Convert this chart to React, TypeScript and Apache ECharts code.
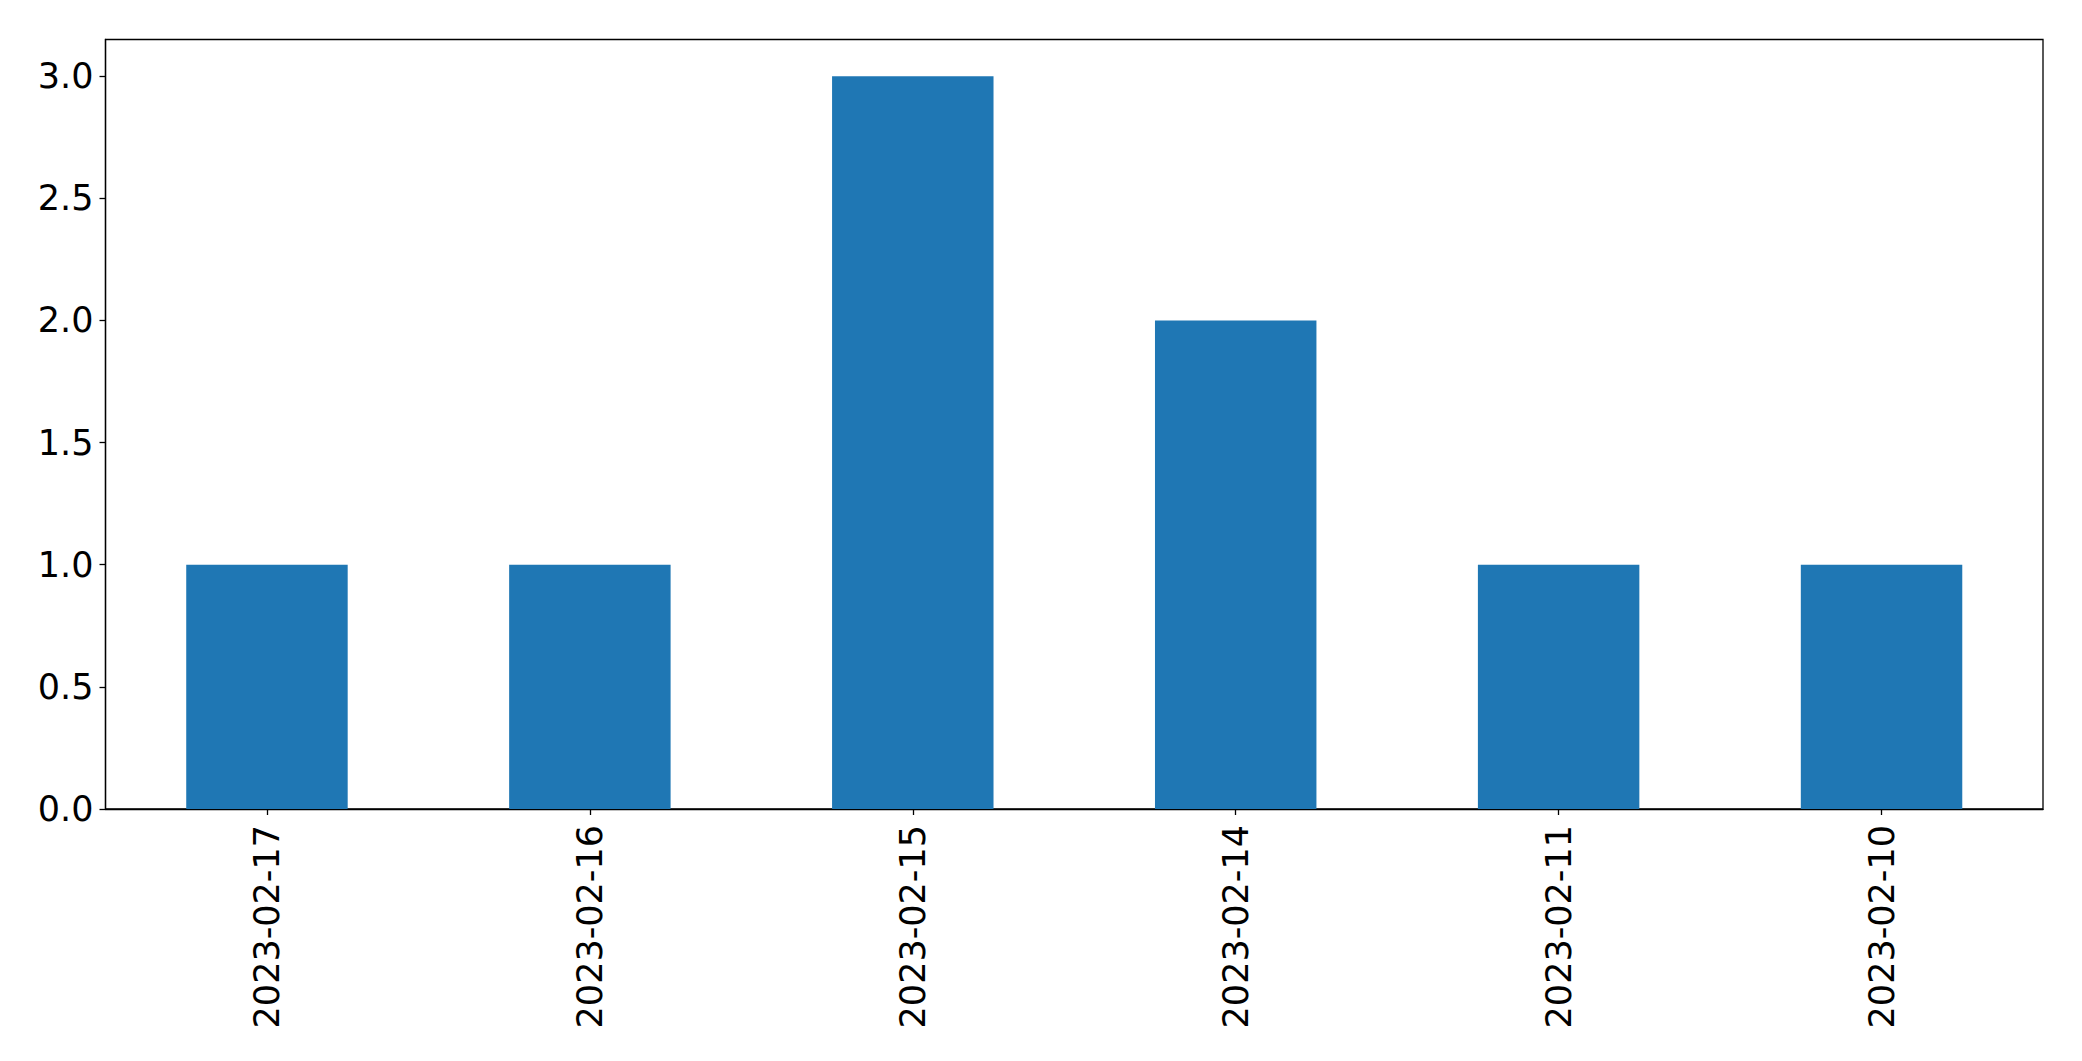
import React, { useEffect, useRef } from "react";
import * as echarts from "echarts";

const categories = ["2023-02-17", "2023-02-16", "2023-02-15", "2023-02-14", "2023-02-11", "2023-02-10"];
const counts = [1, 1, 3, 2, 1, 1];
const yTicks = [0, 0.5, 1.0, 1.5, 2.0, 2.5, 3.0];
const yMax = 3.15;

export default function App() {
  const ref = useRef<HTMLDivElement>(null);
  useEffect(() => {
    if (!ref.current) return;
    const chart = echarts.init(ref.current, null, { renderer: "svg" });
    const font = "DejaVu Sans";
    chart.setOption({
      animation: false,
      backgroundColor: "#ffffff",
      grid: {
        left: 105.5,
        top: 39.5,
        right: 39,
        bottom: 252,
        show: true,
        borderColor: "#000000",
        borderWidth: 1.3,
        containLabel: false,
      },
      xAxis: {
        type: "category",
        data: categories,
        boundaryGap: true,
        axisLine: { show: true, lineStyle: { color: "#000000", width: 1.3 } },
        axisTick: { show: true, alignWithLabel: true, length: 6, lineStyle: { color: "#000000", width: 1.3 } },
        axisLabel: {
          rotate: 90,
          margin: 16,
          color: "#000000",
          fontSize: 35,
          fontFamily: font,
        },
        splitLine: { show: false },
      },
      yAxis: {
        type: "value",
        min: 0,
        max: yMax,
        axisLine: { show: true, lineStyle: { color: "#000000", width: 1.3 } },
        axisTick: { show: true, length: 6, customValues: yTicks, lineStyle: { color: "#000000", width: 1.3 } },
        axisLabel: {
          customValues: yTicks,
          margin: 12,
          color: "#000000",
          fontSize: 35,
          fontFamily: font,
          formatter: (v: number) => v.toFixed(1),
        },
        splitLine: { show: false },
      },
      series: [
        {
          type: "bar",
          data: counts,
          barWidth: "50%",
          itemStyle: { color: "#1f77b4" },
        },
      ],
    });
    return () => chart.dispose();
  }, []);
  return (
    <div
      ref={ref}
      style={{ position: "absolute", left: 0, top: 0, width: 2082, height: 1061 }}
    />
  );
}
